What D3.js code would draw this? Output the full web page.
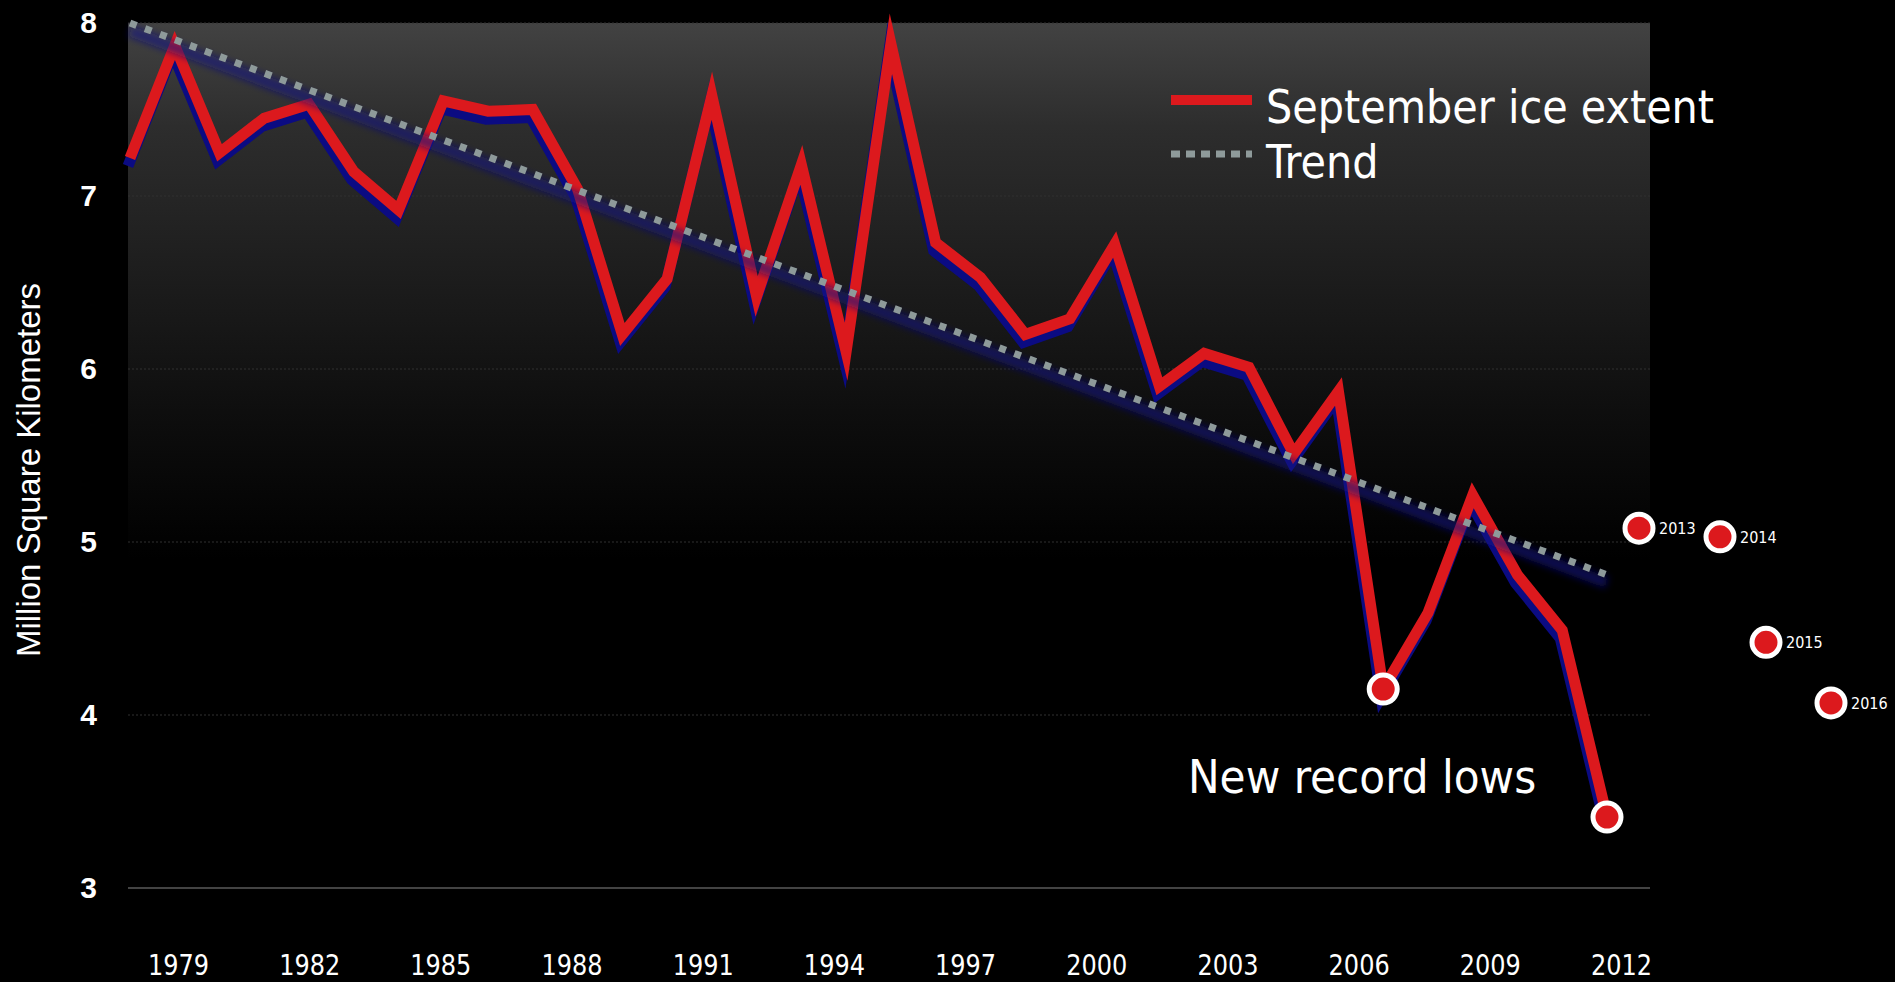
<!DOCTYPE html>
<html>
<head>
  <title>September ice extent</title>
  <script src="https://d3js.org/d3.v7.min.js"></script>
  <style>
    body { margin: 0; background: #000; overflow: hidden; }
    svg { display: block; }
  </style>
</head>
<body>
  <div id="chart"></div>
  <script type="text/javascript">
    // values (million km2)
    var years = [1979, 1980, 1981, 1982, 1983, 1984, 1985, 1986, 1987, 1988, 1989, 1990,
      1991, 1992, 1993, 1994, 1995, 1996, 1997, 1998, 1999, 2000, 2001, 2002,
      2003, 2004, 2005, 2006, 2007, 2008, 2009, 2010, 2011, 2012];
    var extent = [7.22, 7.87, 7.25, 7.45, 7.53, 7.14, 6.92, 7.55, 7.49, 7.50, 7.04, 6.20,
      6.52, 7.58, 6.42, 7.18, 6.10, 7.88, 6.73, 6.53, 6.20, 6.29, 6.72, 5.90,
      6.09, 6.01, 5.51, 5.87, 4.15, 4.59, 5.27, 4.81, 4.49, 3.41];
    var trendYears = [1979, 2012];
    var trendValues = [8.0, 4.81];
    var recordYears = [2007, 2012];
    var laterYears = ["2013", "2014", "2015", "2016"];
    var laterValues = [5.08, 5.03, 4.42, 4.07];
    var labelYears = ["1979", "1982", "1985", "1988", "1991", "1994", "1997", "2000", "2003", "2006", "2009", "2012"];
    var yTicks = [3, 4, 5, 6, 7, 8];

    var width = 1895, height = 982;
    var plot = { left: 128, right: 1650, top: 23, bottom: 888 };
    var red = "#dc191d", navy = "#0b0b82", grey = "#8e9a9a";
    var condensed = "'DejaVu Sans Condensed', 'DejaVu Sans', sans-serif";

    var x = d3.scaleLinear().domain([1979, 2012]).range([130, 1607]);
    var xLabels = d3.scalePoint().domain(labelYears).range([178, 1621]);
    // the later years sit loosely to the right of the plot, not on the year grid
    var xLater = d3.scaleOrdinal().domain(laterYears).range([1639, 1720, 1766, 1831]);
    var y = d3.scaleLinear().domain([3, 8]).range([plot.bottom, plot.top]);

    var svg = d3.select("#chart").append("svg")
      .attr("width", width)
      .attr("height", height)
      .style("background", "#000");

    var defs = svg.append("defs");
    var grad = defs.append("linearGradient")
      .attr("id", "bg").attr("x1", 0).attr("y1", 0).attr("x2", 0).attr("y2", 1);
    grad.append("stop").attr("offset", "0").attr("stop-color", "#424242");
    grad.append("stop").attr("offset", "0.12").attr("stop-color", "#2d2d2d");
    grad.append("stop").attr("offset", "0.3").attr("stop-color", "#1c1c1c");
    grad.append("stop").attr("offset", "0.45").attr("stop-color", "#0e0e0e");
    grad.append("stop").attr("offset", "0.62").attr("stop-color", "#000");
    defs.append("filter").attr("id", "blur")
      .attr("x", "-10%").attr("y", "-100%").attr("width", "120%").attr("height", "300%")
      .append("feGaussianBlur").attr("stdDeviation", 3.5);

    svg.append("rect")
      .attr("x", plot.left).attr("y", plot.top)
      .attr("width", plot.right - plot.left).attr("height", plot.bottom - plot.top)
      .attr("fill", "url(#bg)");

    // grid
    svg.append("g").selectAll("line").data(yTicks).enter().append("line")
      .attr("x1", plot.left).attr("x2", plot.right)
      .attr("y1", function (d) { return y(d); })
      .attr("y2", function (d) { return y(d); })
      .attr("stroke", function (d) { return d == 3 ? "#5a5a5a" : "#303030"; })
      .attr("stroke-width", function (d) { return d == 3 ? 1.5 : 1; })
      .attr("stroke-dasharray", function (d) { return d == 3 ? null : "2,2"; });

    // y axis
    var yAxis = svg.append("g")
      .attr("transform", "translate(" + plot.left + ",0)")
      .call(d3.axisLeft(y).tickValues(yTicks).tickSize(0).tickPadding(31).tickFormat(d3.format("d")));
    yAxis.select(".domain").remove();
    yAxis.selectAll("text")
      .attr("fill", "#fff")
      .style("font-family", "'Liberation Sans', Arial, sans-serif")
      .style("font-weight", "bold")
      .style("font-size", "30px");

    svg.append("text")
      .attr("transform", "translate(40,470) rotate(-90)")
      .attr("text-anchor", "middle")
      .attr("fill", "#fff")
      .style("font-family", "'Liberation Sans', Arial, sans-serif")
      .style("font-size", "33px")
      .text("Million Square Kilometers");

    // x axis
    var xAxis = svg.append("g")
      .attr("transform", "translate(0,975)")
      .call(d3.axisBottom(xLabels).tickSize(0));
    xAxis.select(".domain").remove();
    xAxis.selectAll("text")
      .attr("y", 0).attr("dy", 0)
      .attr("transform", "scale(0.92,1)")
      .attr("fill", "#fff")
      .style("font-family", condensed)
      .style("font-size", "29px");

    var line = d3.line()
      .x(function (d, i) { return x(years[i]); })
      .y(function (d) { return y(d); });

    // extent line with its navy shadow
    svg.append("path")
      .attr("d", line(extent))
      .attr("transform", "translate(-2,8)")
      .attr("fill", "none")
      .attr("stroke", navy)
      .attr("stroke-width", 11)
      .attr("stroke-linejoin", "miter")
      .attr("stroke-miterlimit", 12);
    svg.append("path")
      .attr("d", line(extent))
      .attr("fill", "none")
      .attr("stroke", red)
      .attr("stroke-width", 11)
      .attr("stroke-linejoin", "miter")
      .attr("stroke-miterlimit", 12);

    // trend
    var trendLine = d3.line()
      .x(function (d, i) { return x(trendYears[i]); })
      .y(function (d) { return y(d); });
    svg.append("path")
      .attr("d", trendLine(trendValues))
      .attr("transform", "translate(0,8)")
      .attr("fill", "none")
      .attr("stroke", navy)
      .attr("stroke-opacity", 0.6)
      .attr("stroke-width", 12)
      .attr("filter", "url(#blur)");
    svg.append("path")
      .attr("d", trendLine(trendValues))
      .attr("fill", "none")
      .attr("stroke", grey)
      .attr("stroke-width", 7)
      .attr("stroke-dasharray", "7,9");

    // record lows
    svg.append("g").selectAll("circle").data(recordYears).enter().append("circle")
      .attr("cx", function (d) { return x(d); })
      .attr("cy", function (d) { return y(extent[years.indexOf(d)]); })
      .attr("r", 14)
      .attr("fill", red)
      .attr("stroke", "#fff")
      .attr("stroke-width", 5);

    // later years
    var later = svg.append("g").selectAll("g").data(laterYears).enter().append("g")
      .attr("transform", function (d, i) { return "translate(" + xLater(d) + "," + y(laterValues[i]) + ")"; });
    later.append("circle")
      .attr("r", 14)
      .attr("fill", red)
      .attr("stroke", "#fff")
      .attr("stroke-width", 5);
    later.append("text")
      .attr("x", 20).attr("dy", "0.36em")
      .attr("fill", "#fff")
      .style("font-family", condensed)
      .style("font-size", "16px")
      .text(function (d) { return d; });

    svg.append("text")
      .attr("x", 1188).attr("y", 793)
      .attr("fill", "#fff")
      .style("font-family", condensed)
      .style("font-size", "47px")
      .text("New record lows");

    // legend
    var legend = svg.append("g");
    legend.append("line")
      .attr("x1", 1171).attr("x2", 1252).attr("y1", 107).attr("y2", 107)
      .attr("stroke", navy).attr("stroke-width", 10).attr("filter", "url(#blur)");
    legend.append("line")
      .attr("x1", 1171).attr("x2", 1252).attr("y1", 100).attr("y2", 100)
      .attr("stroke", red).attr("stroke-width", 10);
    legend.append("line")
      .attr("x1", 1171).attr("x2", 1252).attr("y1", 162).attr("y2", 162)
      .attr("stroke", navy).attr("stroke-opacity", 0.6).attr("stroke-width", 10).attr("filter", "url(#blur)");
    legend.append("line")
      .attr("x1", 1171).attr("x2", 1252).attr("y1", 154).attr("y2", 154)
      .attr("stroke", grey).attr("stroke-width", 7).attr("stroke-dasharray", "9,6");
    legend.selectAll("text").data(["September ice extent", "Trend"]).enter().append("text")
      .attr("x", 1266)
      .attr("y", function (d, i) { return i == 0 ? 123 : 178; })
      .attr("fill", "#fff")
      .style("font-family", condensed)
      .style("font-size", "46px")
      .text(function (d) { return d; });
  </script>
</body>
</html>
